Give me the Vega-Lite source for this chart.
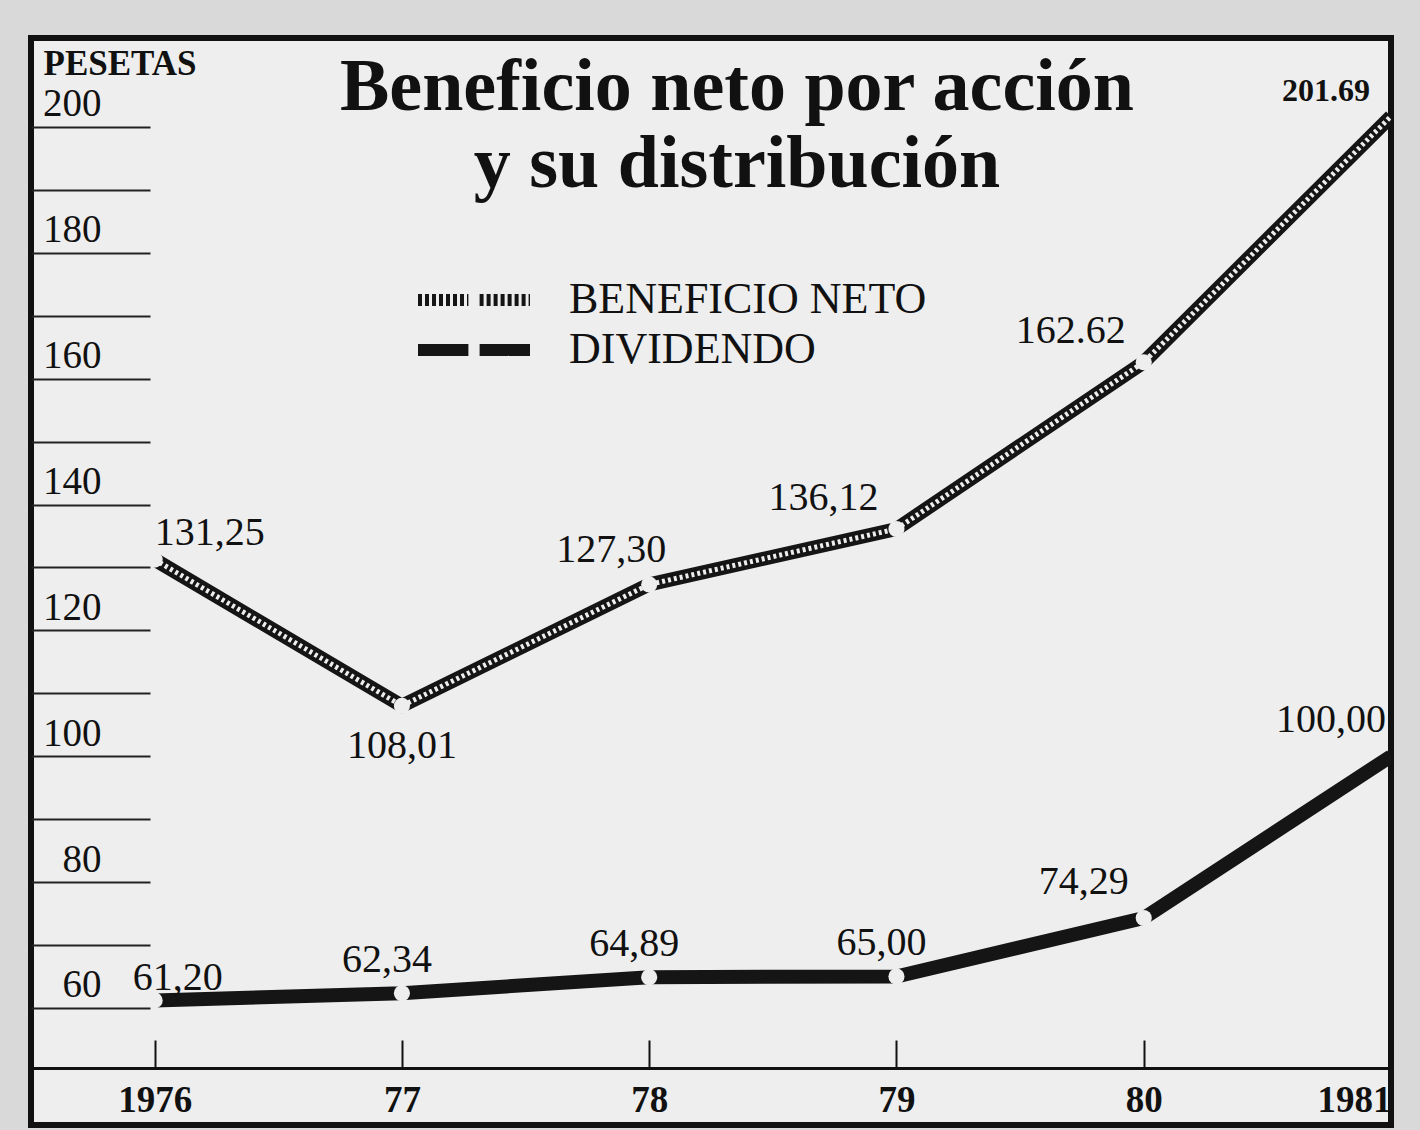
{
  "$schema": "https://vega.github.io/schema/vega-lite/v6.json",
  "width": 1360,
  "height": 1087,
  "autosize": {"type": "none"},
  "padding": {"left": 31, "top": 38, "right": 29, "bottom": 5},
  "background": "#d9d9d9",
  "config": {
    "view": {"fill": "#eeeeee", "stroke": "#111111", "strokeWidth": 6},
    "font": "Liberation Serif",
    "text": {"font": "Liberation Serif", "fontSize": 40, "color": "#111111"}
  },
  "title": {
    "text": ["Beneficio neto por acción", "y su distribución"],
    "font": "Liberation Serif",
    "fontSize": 74,
    "fontWeight": "bold",
    "color": "#111111",
    "anchor": "middle",
    "dx": 26,
    "dy": 151,
    "offset": -72,
    "lineHeight": 77,
    "baseline": "alphabetic"
  },
  "data": {
    "values": [
      {"year": 1976, "series": "BENEFICIO NETO", "value": 131.25, "label": "131,25"},
      {"year": 1977, "series": "BENEFICIO NETO", "value": 108.01, "label": "108,01"},
      {"year": 1978, "series": "BENEFICIO NETO", "value": 127.30, "label": "127,30"},
      {"year": 1979, "series": "BENEFICIO NETO", "value": 136.12, "label": "136,12"},
      {"year": 1980, "series": "BENEFICIO NETO", "value": 162.62, "label": "162.62"},
      {"year": 1981, "series": "BENEFICIO NETO", "value": 201.69, "label": "201.69"},
      {"year": 1976, "series": "DIVIDENDO", "value": 61.20, "label": "61,20"},
      {"year": 1977, "series": "DIVIDENDO", "value": 62.34, "label": "62,34"},
      {"year": 1978, "series": "DIVIDENDO", "value": 64.89, "label": "64,89"},
      {"year": 1979, "series": "DIVIDENDO", "value": 65.00, "label": "65,00"},
      {"year": 1980, "series": "DIVIDENDO", "value": 74.29, "label": "74,29"},
      {"year": 1981, "series": "DIVIDENDO", "value": 100.00, "label": "100,00"}
    ]
  },
  "encoding": {
    "x": {
      "field": "year",
      "type": "quantitative",
      "scale": {"domain": [1975.5, 1981.0], "nice": false, "zero": false},
      "axis": {
        "orient": "bottom",
        "offset": -57,
        "values": [1976, 1977, 1978, 1979, 1980, 1981],
        "labelExpr": "datum.value === 1976 || datum.value === 1981 ? '' + datum.value : substring('' + datum.value, 2)",
        "title": null,
        "grid": false,
        "domainColor": "#111111",
        "domainWidth": 3,
        "tickColor": "#111111",
        "tickWidth": 2,
        "tickSize": -28,
        "labelPadding": 60,
        "labelBaseline": "middle",
        "labelFlush": true,
        "labelFont": "Liberation Serif",
        "labelFontSize": 37,
        "labelFontWeight": "bold",
        "labelColor": "#111111"
      }
    },
    "y": {
      "field": "value",
      "type": "quantitative",
      "scale": {"domain": [41.4, 214.14], "nice": false, "zero": false},
      "axis": {
        "orient": "left",
        "values": [60, 70, 80, 90, 100, 110, 120, 130, 140, 150, 160, 170, 180, 190, 200],
        "labelExpr": "datum.value % 20 === 0 ? '' + datum.value : ''",
        "domain": false,
        "grid": false,
        "tickSize": -119,
        "tickWidth": 2,
        "tickColor": "#222222",
        "labelAlign": "right",
        "labelBaseline": "middle",
        "labelOffset": -23,
        "labelPadding": 49,
        "labelFont": "Liberation Serif",
        "labelFontSize": 39,
        "labelColor": "#111111",
        "title": "PESETAS",
        "titleAngle": 0,
        "titleX": 12,
        "titleY": 36,
        "titleAlign": "left",
        "titleBaseline": "alphabetic",
        "titleFont": "Liberation Serif",
        "titleFontSize": 35,
        "titleFontWeight": "bold",
        "titleColor": "#111111"
      }
    }
  },
  "layer": [
    {
      "mark": {"type": "line", "strokeWidth": 14, "strokeCap": "butt", "clip": true},
      "encoding": {
        "color": {
          "field": "series",
          "type": "nominal",
          "scale": {"domain": ["BENEFICIO NETO", "DIVIDENDO"], "range": ["#151515", "#151515"]},
          "legend": {
            "orient": "none",
            "legendX": 417,
            "legendY": 236,
            "title": null,
            "padding": 0,
            "symbolType": "M-2.8,0H-0.28M0.28,0H2.8",
            "symbolSize": 1600,
            "symbolStrokeWidth": 12,
            "labelFont": "Liberation Serif",
            "labelFontSize": 44,
            "labelColor": "#111111",
            "labelLimit": 600,
            "labelOffset": 69,
            "rowPadding": -6,
            "encode": {
              "symbols": {
                "update": {
                  "strokeDash": {"signal": "datum.value === 'BENEFICIO NETO' ? [4, 3] : [1, 0]"}
                }
              }
            }
          }
        }
      }
    },
    {
      "transform": [{"filter": "datum.series === 'BENEFICIO NETO'"}],
      "mark": {"type": "line", "strokeWidth": 5, "strokeDash": [3, 3], "strokeCap": "butt", "color": "#eeeeee", "clip": true},
      "encoding": {}
    },
    {
      "transform": [{"filter": "datum.year < 1981"}],
      "mark": {"type": "circle", "size": 260, "color": "#eeeeee", "opacity": 1},
      "encoding": {}
    },
    {
      "transform": [{"filter": "datum.series === 'BENEFICIO NETO' && datum.year === 1976"}],
      "mark": {"type": "text", "align": "left", "baseline": "middle", "dx": 0, "dy": -27},
      "encoding": {"text": {"field": "label"}}
    },
    {
      "transform": [{"filter": "datum.series === 'BENEFICIO NETO' && datum.year === 1977"}],
      "mark": {"type": "text", "align": "center", "baseline": "middle", "dx": 0, "dy": 40},
      "encoding": {"text": {"field": "label"}}
    },
    {
      "transform": [{"filter": "datum.series === 'BENEFICIO NETO' && datum.year === 1978"}],
      "mark": {"type": "text", "align": "center", "baseline": "middle", "dx": -38, "dy": -34},
      "encoding": {"text": {"field": "label"}}
    },
    {
      "transform": [{"filter": "datum.series === 'BENEFICIO NETO' && (datum.year === 1979 || datum.year === 1980)"}],
      "mark": {"type": "text", "align": "center", "baseline": "middle", "dx": -73, "dy": -31},
      "encoding": {"text": {"field": "label"}}
    },
    {
      "transform": [{"filter": "datum.series === 'BENEFICIO NETO' && datum.year === 1981"}],
      "mark": {"type": "text", "align": "center", "baseline": "middle", "dx": -65, "dy": -25, "fontSize": 32, "fontWeight": "bold"},
      "encoding": {"text": {"field": "label"}}
    },
    {
      "transform": [{"filter": "datum.series === 'DIVIDENDO' && datum.year === 1976"}],
      "mark": {"type": "text", "align": "center", "baseline": "middle", "dx": 23, "dy": -22},
      "encoding": {"text": {"field": "label"}}
    },
    {
      "transform": [{"filter": "datum.series === 'DIVIDENDO' && datum.year >= 1977 && datum.year <= 1979"}],
      "mark": {"type": "text", "align": "center", "baseline": "middle", "dx": -15, "dy": -33},
      "encoding": {"text": {"field": "label"}}
    },
    {
      "transform": [{"filter": "datum.series === 'DIVIDENDO' && datum.year >= 1980"}],
      "mark": {"type": "text", "align": "center", "baseline": "middle", "dx": -60, "dy": -36},
      "encoding": {"text": {"field": "label"}}
    }
  ]
}
